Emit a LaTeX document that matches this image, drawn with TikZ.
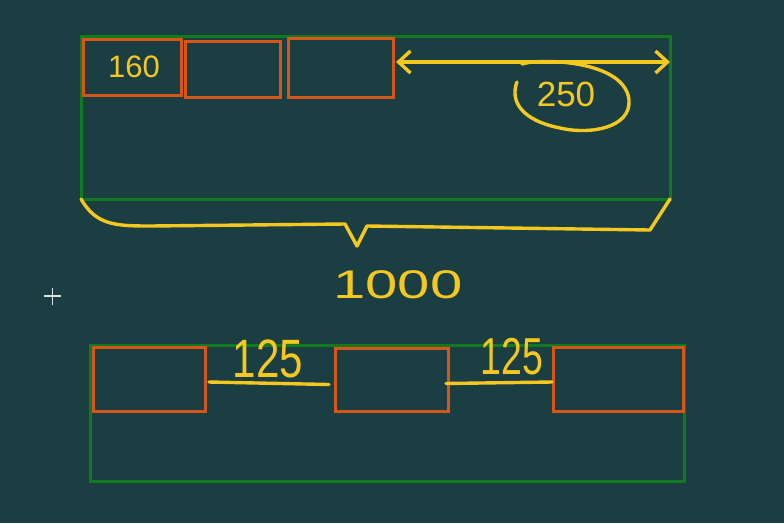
\documentclass[tikz,border=0pt]{standalone}
\usepackage{fontspec}
\setmainfont{Liberation Sans}
\usetikzlibrary{arrows.meta}
\definecolor{bg}{RGB}{27,62,66}
\definecolor{gline}{RGB}{18,122,30}
\definecolor{oline}{RGB}{214,86,26}
\definecolor{yline}{RGB}{244,200,32}
\definecolor{cursor}{RGB}{225,225,225}
\begin{document}
\begin{tikzpicture}[x=1pt,y=-1pt,
  gbox/.style={draw=gline, line width=3pt, inner sep=0pt, outer sep=0pt},
  obox/.style={draw=oline, line width=3pt, inner sep=0pt, outer sep=0pt},
  yl/.style={draw=yline, line width=3.4pt, line cap=round, line join=round},
  hand/.style={text=yline, inner sep=0pt, transform shape}]
\useasboundingbox[fill=bg] (0,0) rectangle (784,523);
% top container
\node[gbox, minimum width=589pt, minimum height=163pt] (top) at (375.5,117.5) {};
\node[obox, minimum width=98pt, minimum height=56pt] (a1) at (132,67) {};
\node[obox, minimum width=95pt, minimum height=56pt] (a2) at (232.5,69) {};
\node[obox, minimum width=105pt, minimum height=59pt] (a3) at (340.5,67.5) {};
\node[hand, font=\fontsize{31}{31}\selectfont] (t160) at (134,67) {160};
% double arrow
\coordinate (ar1) at (396,62);
\coordinate (ar2) at (670,62);
\draw[yl, {Straight Barb[length=12pt,width=22pt]}-{Straight Barb[length=12pt,width=22pt]}] (ar1) -- (ar2);
\node[hand, font=\fontsize{35}{35}\selectfont] (t250) at (566,94) {250};
\draw[yl] (t250.center) ++(-44,-30) .. controls (540,58) and (625,60) .. (629,100)
  .. controls (631,128) and (590,135) .. (560,128)
  .. controls (520,120) and (510,100) .. (517,82);
% brace
\coordinate (br) at (357,246);
\draw[yl] (top.south west) .. controls (96,225) and (115,226) .. (150,226)
  -- (345,224) -- (br) -- (367,226) -- (650,230) -- (top.south east);
\node[hand, font=\fontsize{40}{40}\selectfont, xscale=1.45] (t1000) at (398,285) {1000};
% cursor
\draw[cursor, line width=1.2pt] (44,296) -- (61,296) (52.5,288) -- (52.5,305);
% bottom container
\node[gbox, minimum width=594pt, minimum height=136pt] (bot) at (387,413) {};
\node[obox, minimum width=112pt, minimum height=64pt] (b1) at (149,379) {};
\node[obox, minimum width=113pt, minimum height=63pt] (b2) at (391.5,379.5) {};
\node[obox, minimum width=130pt, minimum height=64pt] (b3) at (618,379) {};
\draw[yl] ([xshift=4pt,yshift=-3pt]b1.east) -- ([xshift=-6pt,yshift=-5pt]b2.west);
\draw[yl] ([xshift=-2pt,yshift=-4pt]b2.east) -- ([xshift=-1pt,yshift=-3pt]b3.west);
\node[hand, font=\fontsize{54}{54}\selectfont, xscale=0.78] (t125a) at (268,359) {125};
\node[hand, font=\fontsize{52}{52}\selectfont, xscale=0.72] (t125b) at (512,357) {125};
\end{tikzpicture}
\end{document}
